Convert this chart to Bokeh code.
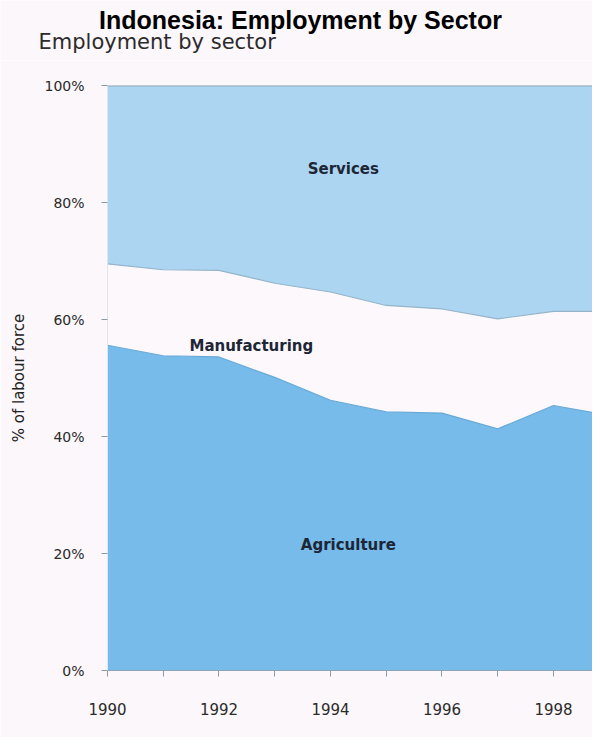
from bokeh.plotting import figure
from bokeh.models import ColumnDataSource, Label, FixedTicker, Span, Range1d
from bokeh.layouts import column
from bokeh.embed import file_html
from bokeh.resources import INLINE
import numpy as np

# ---- data ----
years = [1990, 1991, 1992, 1993, 1994, 1995, 1996, 1997, 1998, 1999]
agriculture = [55.6, 53.8, 53.6, 50.1, 46.2, 44.2, 44.0, 41.3, 45.3, 43.6]
manufacturing = [13.9, 14.7, 14.8, 16.1, 18.5, 18.2, 17.8, 18.8, 16.1, 17.8]
services = [30.5, 31.5, 31.6, 33.8, 35.3, 37.6, 38.2, 39.9, 38.6, 38.6]
sector_names = ["Agriculture", "Manufacturing", "Services"]
x_major_years = [1990, 1992, 1994, 1996, 1998]
x_minor_years = [1991, 1993, 1995, 1997]
y_ticks = [0, 20, 40, 60, 80, 100]
y_tick_labels = ["0%", "20%", "40%", "60%", "80%", "100%"]
title_text = "Indonesia: Employment by Sector"
subtitle_text = "Employment by sector"
y_axis_title = "% of labour force"

# ---- styles ----
BG = "#fcf7fb"
AGRI = "#76bbea"
MANU = "#fcf8fc"
SERV = "#acd5f1"
FONT = "DejaVu Sans"
W = 592
TOP_H = 60
MAIN_H = 677

# ---- header figure (title + subtitle) ----
head = figure(width=W, height=TOP_H, x_range=Range1d(0, W), y_range=Range1d(TOP_H, 0),
              output_backend="svg", toolbar_location=None,
              x_axis_location=None, y_axis_location=None,
              min_border_left=0, min_border_right=0, min_border_top=0, min_border_bottom=0)
head.title = None
head.frame_align = False
head.grid.visible = False
head.outline_line_color = None
head.background_fill_color = BG
head.border_fill_color = BG
head.add_layout(Label(x=300, y=19, text=title_text, text_font="Liberation Sans",
                      text_font_style="bold", text_font_size="25px", text_color="#000000",
                      text_align="center", text_baseline="alphabetic"))
head.add_layout(Label(x=38, y=41, text=subtitle_text, text_font=FONT,
                      text_font_size="21px", text_color="#2b2b2b",
                      text_align="left", text_baseline="alphabetic"))

# ---- main chart ----
source = ColumnDataSource(dict(year=years, agriculture=agriculture,
                               manufacturing=manufacturing, services=services))

p = figure(width=W, height=MAIN_H, x_range=(1990, 1998.70), y_range=(0, 100),
           output_backend="svg", toolbar_location=None,
           min_border_left=107, min_border_right=0, min_border_top=25, min_border_bottom=67)
p.frame_align = False
p.background_fill_color = BG
p.border_fill_color = BG
p.outline_line_color = None
p.grid.visible = False

p.varea_stack(stackers=["agriculture", "manufacturing", "services"], x="year",
              color=[AGRI, MANU, SERV], source=source)

agri_top = np.array(agriculture, dtype=float)
manu_top = agri_top + np.array(manufacturing, dtype=float)
p.line(years, list(agri_top), line_color="#68a9d6", line_width=1.2)
p.line(years, list(manu_top), line_color="#94b4c9", line_width=1.2)
p.add_layout(Span(location=100, dimension="width", line_color="#8fa9b9", line_width=2))

# axes
xa = p.xaxis[0]
xa.ticker = FixedTicker(ticks=x_major_years, minor_ticks=x_minor_years)
xa.axis_line_color = "#8fa3b3"
xa.major_tick_line_color = "#8c9aa6"
xa.minor_tick_line_color = "#8c9aa6"
xa.major_tick_out = 6
xa.major_tick_in = 0
xa.minor_tick_out = 6
xa.minor_tick_in = 0
xa.major_label_standoff = 26
xa.major_label_text_font = FONT
xa.major_label_text_font_size = "15px"
xa.major_label_text_color = "#2a2a2a"

ya = p.yaxis[0]
ya.ticker = FixedTicker(ticks=y_ticks)
ya.major_label_overrides = {t: lab for t, lab in zip(y_ticks, y_tick_labels)}
ya.axis_line_color = "#dfe6ee"
ya.major_tick_line_color = "#8c9aa6"
ya.minor_tick_line_color = None
ya.major_tick_out = 6
ya.major_tick_in = 0
ya.major_label_standoff = 17
ya.major_label_text_font = FONT
ya.major_label_text_font_size = "14px"
ya.major_label_text_color = "#2a2a2a"
ya.axis_label = y_axis_title
ya.axis_label_text_font = FONT
ya.axis_label_text_font_size = "15px"
ya.axis_label_text_font_style = "normal"
ya.axis_label_text_color = "#222222"
ya.axis_label_standoff = 13

# area labels
label_pos = [(1994.32, 21.4), (1992.58, 55.4), (1994.23, 85.8)]
for name, (lx, ly) in zip(sector_names, label_pos):
    p.add_layout(Label(x=lx, y=ly, text=name, text_font=FONT, text_font_style="bold",
                       text_font_size="15px", text_color="#1d2636",
                       text_align="center", text_baseline="middle"))

layout = column(head, p, spacing=0)
open("out.html", "w").write(file_html(layout, INLINE))
